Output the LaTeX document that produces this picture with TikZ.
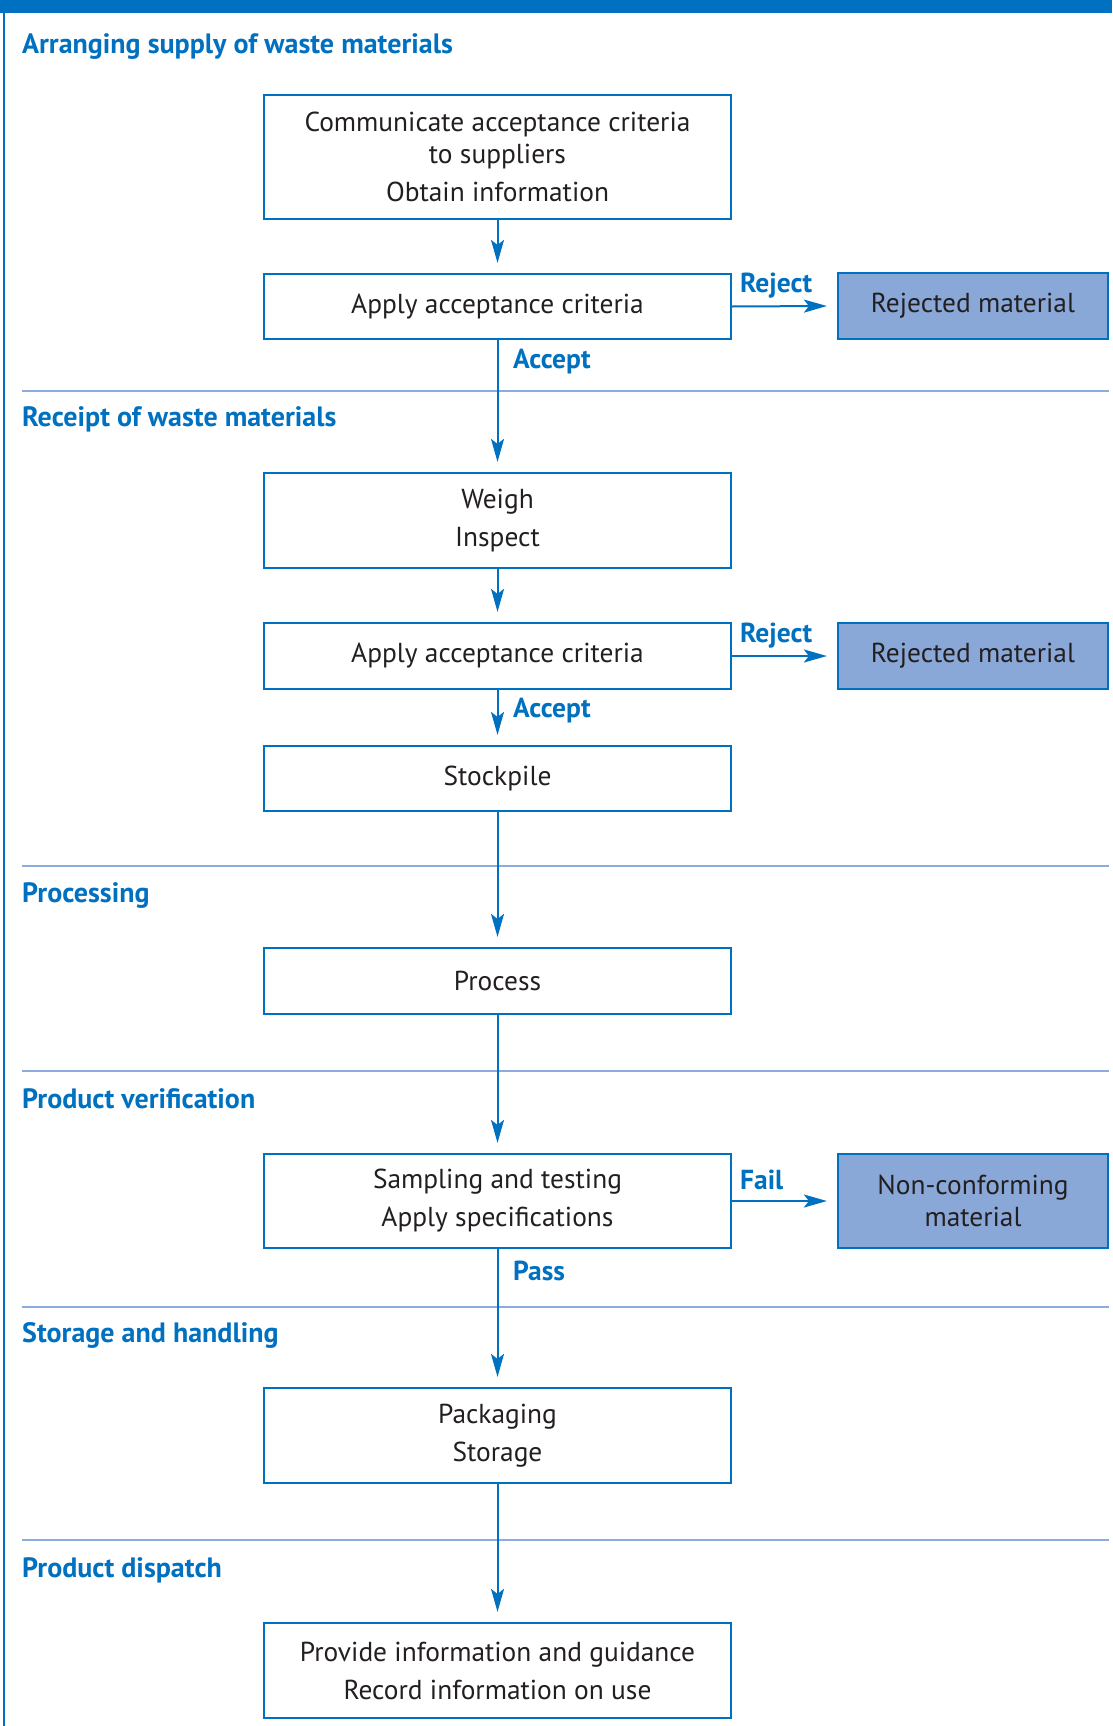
\documentclass[tikz,border=0pt]{standalone}
\usepackage{fontspec}
\setmainfont{PT Sans}
\usetikzlibrary{arrows.meta}
\definecolor{dblue}{RGB}{0,112,192}
\definecolor{lblue}{RGB}{137,168,216}
\definecolor{sline}{RGB}{140,172,222}
\definecolor{txt}{RGB}{35,31,32}
\begin{document}
\begin{tikzpicture}[x=1pt,y=-1pt,
 box/.style={draw=dblue, line width=2.2pt, fill=white, minimum width=467pt, inner sep=0pt, align=center, text=txt, font=\fontsize{27.4}{38}\selectfont},
 rbox/.style={box, fill=lblue, minimum width=270pt},
 head/.style={anchor=base west, text=dblue, font=\bfseries\fontsize{28}{32}\selectfont, inner sep=0pt},
 lab/.style={anchor=west, text=dblue, font=\bfseries\fontsize{27.5}{30}\selectfont, inner sep=0pt},
 arr/.style={draw=dblue, line width=2pt, -{Stealth[length=23pt,width=13pt,inset=5pt]}},
 sepline/.style={draw=sline, line width=2pt}]
\useasboundingbox (0,0) rectangle (1112,1726);
\fill[dblue] (0,0) rectangle (1112,13);
\draw[dblue, line width=1.5pt] (4,13) -- (4,1726);
% section lines
\foreach \yy in {391,866,1071,1307,1540} \draw[sepline] (22,\yy) -- (1109,\yy);
% headings
\node[head] (h1) at (22,54) {Arranging supply of waste materials};
\node[head] (h2) at (22,426) {Receipt of waste materials};
\node[head] (h3) at (22,902) {Processing};
\node[head] (h4) at (22,1108) {Product verification};
\node[head] (h5) at (22,1342) {Storage and handling};
\node[head] (h6) at (22,1577) {Product dispatch};
% boxes
\node[box, minimum height=124pt] (comm) at (497.5,157) {Communicate acceptance criteria\\[-6pt] to suppliers\\ Obtain information};
\node[box, minimum height=65pt] (app1) at (497.5,306.5) {Apply acceptance criteria};
\node[box, minimum height=95pt] (weigh) at (497.5,520.5) {Weigh\\ Inspect};
\node[box, minimum height=66pt] (app2) at (497.5,656) {Apply acceptance criteria};
\node[box, minimum height=65pt] (stock) at (497.5,778.5) {Stockpile};
\node[box, minimum height=66pt] (proc) at (497.5,981) {Process};
\node[box, minimum height=94pt] (samp) at (497.5,1201) {Sampling and testing\\ Apply specifications};
\node[box, minimum height=95pt] (pack) at (497.5,1435.5) {Packaging\\ Storage};
\node[box, minimum height=95pt] (prov) at (497.5,1670.5) {Provide information and guidance\\ Record information on use};
\node[rbox, minimum height=66pt] (rej1) at (973,306) {Rejected material};
\node[rbox, minimum height=66pt] (rej2) at (973,656) {Rejected material};
\node[rbox, minimum height=94pt, font=\fontsize{27.4}{32}\selectfont] (nonc) at (973,1201) {Non-conforming\\ material};
% arrows
\draw[arr] (comm.south) -- ([yshift=10pt]app1.north);
\draw[arr] (app1.south) -- ([yshift=10pt]weigh.north);
\draw[arr] (weigh.south) -- ([yshift=10pt]app2.north);
\draw[arr] (app2.south) -- ([yshift=10pt]stock.north);
\draw[arr] (stock.south) -- ([yshift=10pt]proc.north);
\draw[arr] (proc.south) -- ([yshift=10pt]samp.north);
\draw[arr] (samp.south) -- ([yshift=10pt]pack.north);
\draw[arr] (pack.south) -- ([yshift=10pt]prov.north);
\draw[arr] (app1.east) -- ([xshift=-10pt]rej1.west);
\draw[arr] (app2.east) -- ([xshift=-10pt]rej2.west);
\draw[arr] (samp.east) -- ([xshift=-10pt]nonc.west);
% labels
\node[lab] (l1) at (740,286) {Reject};
\node[lab] (l2) at (513,362) {Accept};
\node[lab] (l3) at (740,636) {Reject};
\node[lab] (l4) at (513,711) {Accept};
\node[lab] (l5) at (740,1180) {Fail};
\node[lab] (l6) at (513,1271) {Pass};
\end{tikzpicture}
\end{document}
